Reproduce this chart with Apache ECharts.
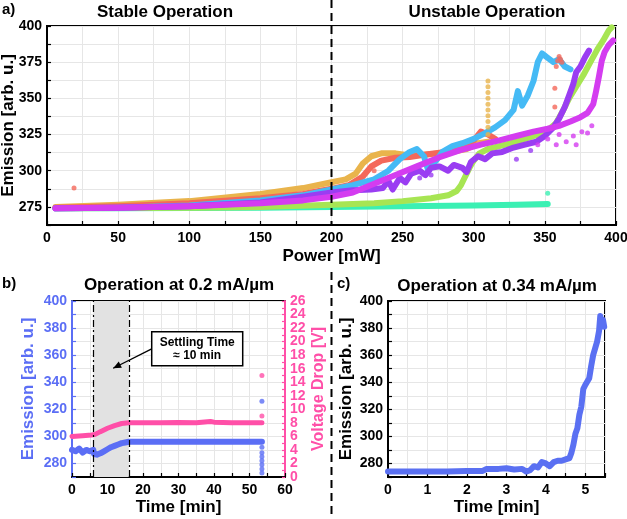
<!DOCTYPE html>
<html><head><meta charset="utf-8">
<script src="https://cdn.jsdelivr.net/npm/echarts/dist/echarts.min.js"></script>
<style>html,body{margin:0;padding:0;background:#fff}#c{width:627px;height:519px}</style>
</head><body><div id="c"></div>
<script>
// ---------- Panel a: Emission vs Power ----------
const tealA = [[6,274],[50,274],[100,274.2],[150,274.5],[200,275],[250,275.5],[300,276],[330,276.5],[352,277]];
const tealOut = [[352,284.5]];
const limeA = [[6,274],[100,274.5],[150,275],[200,276.5],[230,277.5],[250,279],[270,281],[282,283],[288,286],[291,290],[294,296],[297,302],[300,307],[304,312],[310,315],[318,317],[330,320],[345,325],[352,328],[358,333],[363,342],[367,350],[372,358],[377,366],[382,375],[387,384],[391,390],[395,397],[397,399]];
const orangeA = [[6,275],[50,276.5],[100,279],[150,284],[180,288],[200,292],[210,294],[217,298],[222,305],[228,310],[235,312],[245,312],[255,310.5],[265,311],[275,312],[285,313],[295,315],[303,319],[310,320]];
const orangeOut = [[310,325],[310,330],[310,334],[310,338],[310,342],[310,346],[310,350],[310,354],[310,358],[310,362]];
const redA = [[6,274.5],[50,275.5],[100,277.5],[150,281],[180,284],[200,287.5],[212,290],[222,296],[228,303],[235,307],[245,309],[255,309.5],[265,311],[280,313],[292,316],[300,321],[305,327],[310,325],[315,322]];
const redOut = [[19,288],[230,300],[357,344],[357,357],[358,372],[359,376],[360,379],[361,377],[362,375]];
const blueA = [[6,274],[50,274.5],[100,276],[150,279.5],[180,283],[200,287],[215,290],[230,294],[240,300],[248,308],[255,313],[260,315],[265,310],[268,300],[272,305],[278,313],[285,317],[292,319],[300,322],[308,326],[315,330],[322,335],[328,342],[331,355],[334,345],[338,352],[342,362],[345,375],[348,381],[352,378],[356,375],[360,377],[364,372],[368,370]];
const purpleA = [[6,274],[50,274.5],[100,275.5],[150,278],[180,282],[200,285],[215,286.5],[228,287],[236,288],[240,293],[243,287],[248,295],[252,292],[256,298],[262,300],[266,297],[270,302],[276,303],[282,300],[286,304],[292,302],[295,299],[298,306],[303,310],[308,308],[313,312],[320,313],[328,316],[336,318],[344,320],[350,324],[356,330],[360,336],[364,344],[367,352],[370,360],[372,368],[375,372],[378,378],[381,383]];
const purpleOut = [[330,308],[340,314],[262,295],[270,297]];
const magentaA = [[6,274],[50,274.5],[100,275.5],[150,277.5],[180,279.5],[200,282],[215,285],[230,291],[245,297],[260,303],[275,309],[290,314],[305,318],[318,321],[330,324],[342,327],[352,329],[360,331],[368,334],[375,337],[380,340],[384,346],[386,355],[388,365],[390,376],[392,382],[395,387],[398,390]];
const magentaOut = [[345,318],[352,322],[360,325],[365,320],[370,324],[372,318],[376,327],[380,326],[383,331],[358,318]];

// ---------- Panel b: Operation at 0.2 mA/um ----------
const emissionB = [[0,290],[1,289],[2,291],[3,288],[4,290],[5,289],[6,290],[6.2,287],[7,286.5],[8,287.5],[9,289],[10,290.5],[11,292],[12,293],[13,294],[14,295],[15,295.5],[16,296],[20,296],[25,296],[30,296],[35,296],[40,296],[45,296],[50,296],[53.5,296]];
const emissionBOut = [[53.5,326],[53.5,292],[53.5,288],[53.5,285],[53.5,282],[53.5,279],[53.5,276],[53.5,273]];
const voltageB = [[0,6],[3,6.1],[5.5,6.2],[6.5,6.3],[8,6.7],[10,7.2],[12,7.6],[14,7.9],[16,8],[20,8],[25,8],[30,8.05],[35,8],[39,8.2],[40,8.1],[45,8],[50,8],[53.5,8]];
const voltageBOut = [[53.5,15],[53.5,9]];
const settleStart = 6, settleEnd = 16;

// ---------- Panel c: Operation at 0.34 mA/um ----------
const emissionC = [[0,274],[0.5,274],[1,274],[1.5,274],[2,274.5],[2.4,274.5],[2.5,276],[2.8,276],[3,276.5],[3.2,275.5],[3.4,276],[3.5,274],[3.6,275],[3.7,278],[3.8,277],[3.9,281],[4,280],[4.1,278],[4.2,281],[4.3,282],[4.4,282],[4.5,283],[4.6,284],[4.65,288],[4.7,294],[4.75,302],[4.8,306],[4.85,316],[4.9,322],[4.95,335],[5.0,338],[5.05,339],[5.1,343],[5.15,352],[5.2,360],[5.25,365],[5.3,370],[5.35,378],[5.38,389],[5.42,383],[5.45,386],[5.48,381]];

const FONT = 'Liberation Sans, Arial, sans-serif';
const C = {teal:'#3bf0b3', lime:'#a7e553', orange:'#e9b44c', red:'#f4685a', blue:'#45baf5', purple:'#9a3df2', magenta:'#d43cf0', bB:'#5b6ef5', pink:'#ff4fa8', cB:'#5a70f2'};
const GRID = '#e6e6e6';

function lineS(data, color, xi, yi, w){
  return {type:'line', data, xAxisIndex:xi, yAxisIndex:yi, showSymbol:false, symbol:'none', animation:false,
    lineStyle:{color, width:w||6, cap:'round', join:'round'}, itemStyle:{color}, z:3};
}
function scatS(data, color, xi, yi, s){
  return {type:'scatter', data, xAxisIndex:xi, yAxisIndex:yi, symbolSize:s||5, itemStyle:{color}, animation:false, z:3};
}
function lbl(color, fmt){
  const o = {color, fontFamily:FONT, fontWeight:'bold', fontSize:14, margin:5, showMinLabel:true, showMaxLabel:true, hideOverlap:false};
  if (fmt) o.formatter = fmt;
  return o;
}
function valAxis(o){
  const lc = o.color || '#000';
  return Object.assign({type:'value', scale:false,
    axisLine:{show:true, onZero:false, lineStyle:{color:lc, width:2}},
    axisTick:{show:true, inside:true, length:4, lineStyle:{color:lc, width:1.2}},
    axisLabel:lbl(lc),
    splitLine:{show:true, lineStyle:{color:GRID, width:1}},
    nameTextStyle:{color:lc, fontFamily:FONT, fontWeight:'bold', fontSize:17},
    nameMoveOverlap:false,
    nameLocation:'middle'}, o.opt);
}
const every = (step)=> (v)=> (Math.abs(v/step - Math.round(v/step))<1e-6 ? String(+v.toFixed(2)) : '');

const chart = echarts.init(document.getElementById('c'), null, {renderer:'canvas'});
const option = {
  animation:false,
  grid:[
    {left:47, top:26, width:569, height:199, show:true, borderColor:'#000', borderWidth:2, containLabel:false, outerBoundsMode:'none'},
    {left:72, top:301, width:213, height:176, show:true, borderColor:'#000', borderWidth:2, containLabel:false, outerBoundsMode:'none'},
    {left:388, top:301, width:217, height:176, show:true, borderColor:'#000', borderWidth:2, containLabel:false, outerBoundsMode:'none'}
  ],
  xAxis:[
    valAxis({opt:{gridIndex:0, min:0, max:400, interval:25, name:'Power [mW]', nameGap:23, axisLabel:Object.assign(lbl('#000', every(50)),{margin:6})}}),
    valAxis({opt:{gridIndex:1, min:0, max:60, interval:5, name:'Time [min]', nameGap:22, axisLabel:Object.assign(lbl('#000', every(10)),{margin:6})}}),
    valAxis({opt:{gridIndex:2, min:0, max:5.5, interval:0.5, name:'Time [min]', nameGap:22, axisLabel:Object.assign(lbl('#000', every(1)),{margin:6})}})
  ],
  yAxis:[
    valAxis({opt:{gridIndex:0, min:262.5, max:400, interval:12.5, name:'Emission [arb. u.]', nameGap:30, axisLabel:lbl('#000', every(25))}}),
    valAxis({color:C.bB, opt:{gridIndex:1, min:270, max:400, interval:10, name:'Emission [arb. u.]', nameGap:35, axisLabel:lbl(C.bB, every(20))}}),
    valAxis({color:C.pink, opt:{gridIndex:1, min:0, max:26, interval:1, position:'right', name:'Voltage Drop [V]', nameGap:26,
      splitLine:{show:false}, axisTick:{show:true, inside:true, length:3, lineStyle:{color:C.pink, width:1.2}},
      nameTextStyle:{color:C.pink, fontFamily:FONT, fontWeight:'bold', fontSize:16},
      axisLabel:lbl(C.pink, every(2))}}),
    valAxis({opt:{gridIndex:2, min:270, max:400, interval:10, name:'Emission [arb. u.]', nameGap:33, axisLabel:lbl('#000', every(20))}})
  ],
  series:[
    lineS(tealA, C.teal, 0, 0), scatS(tealOut, C.teal, 0, 0),
    lineS(limeA, C.lime, 0, 0),
    lineS(orangeA, C.orange, 0, 0), scatS(orangeOut, C.orange, 0, 0),
    lineS(redA, C.red, 0, 0), scatS(redOut, C.red, 0, 0),
    lineS(blueA, C.blue, 0, 0),
    lineS(purpleA, C.purple, 0, 0), scatS(purpleOut, C.purple, 0, 0),
    lineS(magentaA, C.magenta, 0, 0), scatS(magentaOut, C.magenta, 0, 0),
    Object.assign(lineS(emissionB, C.bB, 1, 1, 6), {
      markArea:{silent:true, itemStyle:{color:'#e2e2e2'}, data:[[{xAxis:settleStart},{xAxis:settleEnd}]]},
      markLine:{silent:true, symbol:['none','none'], label:{show:false},
        lineStyle:{color:'#000', width:1.2, type:[7,3,2,3]}, data:[{xAxis:settleStart},{xAxis:settleEnd}]}
    }),
    scatS(emissionBOut, C.bB, 1, 1, 5),
    lineS(voltageB, C.pink, 1, 2, 5),
    scatS(voltageBOut, C.pink, 1, 2, 5),
    lineS(emissionC, C.cB, 2, 3, 6)
  ]
};
chart.setOption(option);

// annotations derived from axis scales
const xDiv = chart.convertToPixel({xAxisIndex:0}, 200);
const yBot = chart.convertToPixel({yAxisIndex:0}, 262.5);
const boxC = chart.convertToPixel({xAxisIndex:1, yAxisIndex:1}, [35.27, 364.7]);
const arS = chart.convertToPixel({xAxisIndex:1, yAxisIndex:1}, [22.45, 364.6]);
const arE = chart.convertToPixel({xAxisIndex:1, yAxisIndex:1}, [11.6, 350.3]);
const ang = Math.atan2(arE[1]-arS[1], arE[0]-arS[0]);
const ah = 8, aw = 3.5;
const p1 = [arE[0]-ah*Math.cos(ang)+aw*Math.sin(ang), arE[1]-ah*Math.sin(ang)-aw*Math.cos(ang)];
const p2 = [arE[0]-ah*Math.cos(ang)-aw*Math.sin(ang), arE[1]-ah*Math.sin(ang)+aw*Math.cos(ang)];
const tf = (size)=>'bold '+size+'px '+FONT;
function txt(t, x, y, size, color, align){
  return {type:'text', x, y, z:100, style:{text:t, font:tf(size), fill:color||'#000', textAlign:align||'center', align:align||'center', textVerticalAlign:'middle', verticalAlign:'middle'}};
}
chart.setOption({graphic:[
  {type:'line', z:50, shape:{x1:xDiv, y1:0, x2:xDiv, y2:yBot}, style:{stroke:'#000', lineWidth:2, lineDash:[8,5]}},
  {type:'line', z:50, shape:{x1:xDiv, y1:yBot+47, x2:xDiv, y2:519}, style:{stroke:'#000', lineWidth:2, lineDash:[8,5]}},
  txt('a)', 2, 10, 15, '#000', 'left'),
  txt('Stable Operation', 165, 12, 17),
  txt('Unstable Operation', 487, 12, 17),
  txt('b)', 2, 284, 15, '#000', 'left'),
  txt('Operation at 0.2 mA/µm', 179, 285, 17),
  txt('c)', 337, 284, 15, '#000', 'left'),
  txt('Operation at 0.34 mA/µm', 497, 286, 17),
  {type:'rect', z:60, shape:{x:boxC[0]-45.5, y:boxC[1]-17, width:91, height:34}, style:{fill:'#fff', stroke:'#000', lineWidth:1.5}},
  txt('Settling Time', boxC[0], boxC[1]-6.5, 12),
  txt('≈ 10 min', boxC[0], boxC[1]+7, 12),
  {type:'line', z:60, shape:{x1:arS[0], y1:arS[1], x2:arE[0], y2:arE[1]}, style:{stroke:'#000', lineWidth:1.3}},
  {type:'polygon', z:60, shape:{points:[arE, p1, p2]}, style:{fill:'#000'}}
]});
</script></body></html>
